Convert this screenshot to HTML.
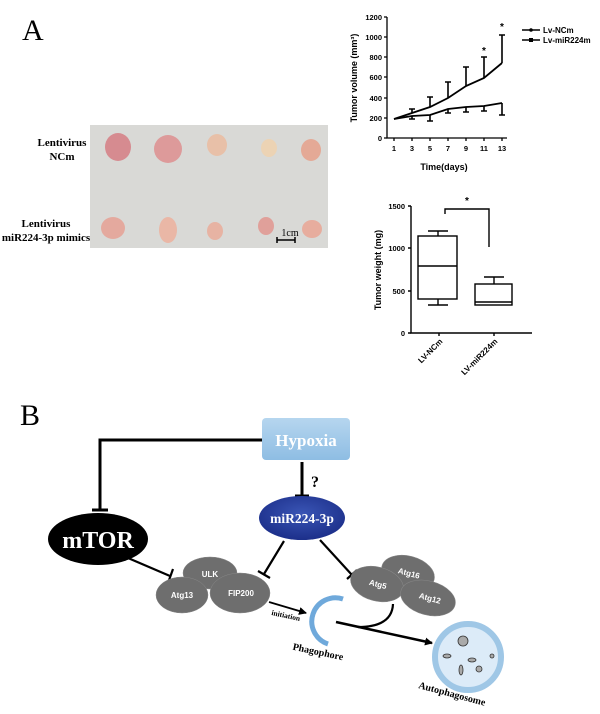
<!DOCTYPE html>
<html><head><meta charset="utf-8"><style>
html,body{margin:0;padding:0;background:#fff;}
svg{display:block;}
text{font-family:"Liberation Sans",sans-serif;}
.s{font-family:"Liberation Serif",serif;font-weight:bold;}
</style></head><body>
<svg width="600" height="714" viewBox="0 0 600 714" xmlns="http://www.w3.org/2000/svg">
<defs>
<marker id="ah" markerWidth="8" markerHeight="8" refX="7" refY="4" orient="auto" markerUnits="userSpaceOnUse"><path d="M0,0 L8,4 L0,8 z" fill="#000"/></marker>
<linearGradient id="hg" x1="0" y1="0" x2="0" y2="1"><stop offset="0" stop-color="#b6d6ef"/><stop offset="1" stop-color="#8ebde3"/></linearGradient>
<radialGradient id="mg" cx="0.5" cy="0.4" r="0.6"><stop offset="0" stop-color="#3a55b5"/><stop offset="1" stop-color="#1c2f8a"/></radialGradient>
</defs>
<text x="22" y="40" class="s" style="font-weight:normal;font-size:30px">A</text>
<rect x="90" y="125" width="238" height="123" fill="#d9d9d6"/>
<text x="62" y="146" class="s" font-size="11" text-anchor="middle">Lentivirus</text>
<text x="62" y="160" class="s" font-size="11" text-anchor="middle">NCm</text>
<text x="46" y="227" class="s" font-size="11" text-anchor="middle">Lentivirus</text>
<text x="46" y="241" class="s" font-size="11" text-anchor="middle">miR224-3p mimics</text>
<g>
<ellipse cx="118" cy="147" rx="13" ry="14" fill="#d68b90"/>
<ellipse cx="168" cy="149" rx="14" ry="14" fill="#dd9a9a"/>
<ellipse cx="217" cy="145" rx="10" ry="11" fill="#e8c0a8"/>
<ellipse cx="269" cy="148" rx="8" ry="9" fill="#ecd3b4"/>
<ellipse cx="311" cy="150" rx="10" ry="11" fill="#e4a996"/>
<ellipse cx="113" cy="228" rx="12" ry="11" fill="#e4a99e"/>
<ellipse cx="168" cy="230" rx="9" ry="13" fill="#eab7a6"/>
<ellipse cx="215" cy="231" rx="8" ry="9" fill="#e7b3a3"/>
<ellipse cx="266" cy="226" rx="8" ry="9" fill="#e0a09a"/>
<ellipse cx="312" cy="229" rx="10" ry="9" fill="#e7ad9e"/>
</g>
<text x="290" y="236" class="s" style="font-weight:normal" font-size="10" text-anchor="middle">1cm</text>
<path d="M277 240 H295 M277 237 V243 M295 237 V243" stroke="#000" stroke-width="1.5"/>
<g stroke="#000" stroke-width="1.3" fill="none">
<path d="M387 17 V138 H507"/>
<path d="M384 17 H387 M384 37 H387 M384 57 H387 M384 77 H387 M384 98 H387 M384 118 H387 M384 138 H387"/>
<path d="M394 138 V141 M412 138 V141 M430 138 V141 M448 138 V141 M466 138 V141 M484 138 V141 M502 138 V141"/>
<path d="M394 119 L412 113 L430 107 L448 98 L466 86 L484 78 L502 63" stroke-width="1.8"/>
<path d="M394 119 L412 116 L430 115 L448 109 L466 107 L484 106 L502 103" stroke-width="1.8"/>
<path d="M412 113 V109 M409 109 H415 M430 107 V97 M427 97 H433 M448 98 V82 M445 82 H451 M466 86 V67 M463 67 H469 M484 78 V57 M481 57 H487 M502 63 V35 M499 35 H505" stroke-width="1.6"/>
<path d="M412 116 V119 M409 119 H415 M430 115 V121 M427 121 H433 M448 109 V113 M445 113 H451 M466 107 V112 M463 112 H469 M484 106 V111 M481 111 H487 M502 103 V115 M499 115 H505" stroke-width="1.6"/>
<path d="M522 30 H540 M522 40 H540" stroke-width="1.5"/>
</g>
<rect x="529" y="38" width="4" height="4"/><circle cx="531" cy="30" r="1.8"/>
<text x="543" y="33" font-size="8" font-weight="bold">Lv-NCm</text>
<text x="543" y="43" font-size="8" font-weight="bold">Lv-miR224m</text>
<text x="484" y="54" font-size="10" font-weight="bold" text-anchor="middle">*</text>
<text x="502" y="30" font-size="10" font-weight="bold" text-anchor="middle">*</text>
<g font-size="7.5" font-weight="bold" text-anchor="end">
<text x="382" y="20">1200</text><text x="382" y="40">1000</text><text x="382" y="60">800</text><text x="382" y="80">600</text><text x="382" y="101">400</text><text x="382" y="121">200</text><text x="382" y="141">0</text></g>
<g font-size="7.5" font-weight="bold" text-anchor="middle">
<text x="394" y="151">1</text><text x="412" y="151">3</text><text x="430" y="151">5</text><text x="448" y="151">7</text><text x="466" y="151">9</text><text x="484" y="151">11</text><text x="502" y="151">13</text></g>
<text x="444" y="170" font-size="9" font-weight="bold" text-anchor="middle">Time(days)</text>
<text transform="translate(357 78) rotate(-90)" font-size="9" font-weight="bold" text-anchor="middle">Tumor volume (mm³)</text>
<g stroke="#000" stroke-width="1.4" fill="none">
<path d="M411 206 V333 H532"/>
<path d="M408 206 H411 M408 248 H411 M408 291 H411 M408 333 H411 M439 333 V336 M494 333 V336"/>
<rect x="418" y="236" width="39" height="63"/><path d="M418 266 H457 M438 236 V231 M428 231 H448 M438 299 V305 M428 305 H448"/>
<rect x="475" y="284" width="37" height="21"/><path d="M475 302 H512 M494 284 V277 M484 277 H504"/>
<path d="M445 214 V209 H489 V247"/>
</g>
<text x="467" y="204" font-size="10" font-weight="bold" text-anchor="middle">*</text>
<g font-size="7.5" font-weight="bold" text-anchor="end">
<text x="405" y="209">1500</text><text x="405" y="251">1000</text><text x="405" y="294">500</text><text x="405" y="336">0</text></g>
<text transform="translate(381 270) rotate(-90)" font-size="9" font-weight="bold" text-anchor="middle">Tumor weight (mg)</text>
<text transform="translate(443 342) rotate(-45)" font-size="8" font-weight="bold" text-anchor="end">LV-NCm</text>
<text transform="translate(498 342) rotate(-45)" font-size="8" font-weight="bold" text-anchor="end">LV-miR224m</text>
<text x="20" y="425" class="s" style="font-weight:normal;font-size:30px">B</text>
<g stroke="#000" stroke-width="3" fill="none">
<path d="M262 440 H100 V510"/><path d="M92 510 H108"/>
<path d="M302 462 V495"/><path d="M295 496 H309"/>
<path d="M128 558 L170 576" stroke-width="2.2"/><path d="M173 569 L168 583" stroke-width="2.2"/>
<path d="M284 541 L264 574" stroke-width="2.2"/><path d="M258 571 L270 578" stroke-width="2.2"/>
<path d="M320 540 L352 575" stroke-width="2.2"/><path d="M347 579 L357 570" stroke-width="2.2"/>
<path d="M269 602 L306 613" stroke-width="1.8" marker-end="url(#ah)"/>
<path d="M336 622 L432 643" stroke-width="2.5" marker-end="url(#ah)"/>
<path d="M393 604 Q392 627 358 627" stroke-width="2.2"/>
</g>
<rect x="262" y="418" width="88" height="42" rx="4" fill="url(#hg)"/>
<text x="306" y="446" class="s" font-size="17" fill="#fff" text-anchor="middle">Hypoxia</text>
<text x="315" y="487" class="s" font-size="16" text-anchor="middle">?</text>
<ellipse cx="98" cy="539" rx="50" ry="26" fill="#000"/>
<text x="98" y="548" class="s" font-size="24" fill="#fff" text-anchor="middle">mTOR</text>
<ellipse cx="302" cy="518" rx="43" ry="22" fill="url(#mg)"/>
<text x="302" y="523" class="s" font-size="13.5" fill="#fff" text-anchor="middle">miR224-3p</text>
<g fill="#6e6e6e" stroke="#888" stroke-width="0.5">
<ellipse cx="210" cy="573" rx="27" ry="16"/>
<ellipse cx="182" cy="595" rx="26" ry="18"/>
<ellipse cx="240" cy="593" rx="30" ry="20"/>
<ellipse cx="408" cy="573" rx="27" ry="17" transform="rotate(15 408 573)"/>
<ellipse cx="377" cy="584" rx="27" ry="17" transform="rotate(15 377 584)"/>
<ellipse cx="428" cy="598" rx="28" ry="17" transform="rotate(15 428 598)"/>
</g>
<g class="s" font-size="8" fill="#fff" text-anchor="middle">
<text x="210" y="577">ULK</text><text x="182" y="598">Atg13</text><text x="241" y="596">FIP200</text>
<text x="409" y="576" transform="rotate(15 409 573)">Atg16</text>
<text x="378" y="587" transform="rotate(15 378 584)">Atg5</text>
<text x="430" y="601" transform="rotate(15 430 598)">Atg12</text>
</g>
<text x="286" y="618" class="s" font-size="7.5" transform="rotate(12 286 615)" text-anchor="middle">initiation</text>
<path d="M343 599 A23 23 0 1 0 328 644" stroke="#6fa9db" stroke-width="5" fill="none"/>
<text x="318" y="655" class="s" font-size="10" transform="rotate(12 318 652)" text-anchor="middle">Phagophore</text>
<circle cx="468" cy="657" r="33" fill="#dcebf8" stroke="#9fc7e6" stroke-width="6"/>
<g fill="#aaa" stroke="#333" stroke-width="0.8">
<circle cx="463" cy="641" r="5"/><circle cx="479" cy="669" r="3"/><circle cx="492" cy="656" r="2"/>
<ellipse cx="447" cy="656" rx="4" ry="2"/><ellipse cx="472" cy="660" rx="4" ry="2"/><ellipse cx="461" cy="670" rx="2" ry="5"/>
</g>
<text x="452" y="697" class="s" font-size="10" transform="rotate(15 452 694)" text-anchor="middle">Autophagosome</text>
</svg>
</body></html>
